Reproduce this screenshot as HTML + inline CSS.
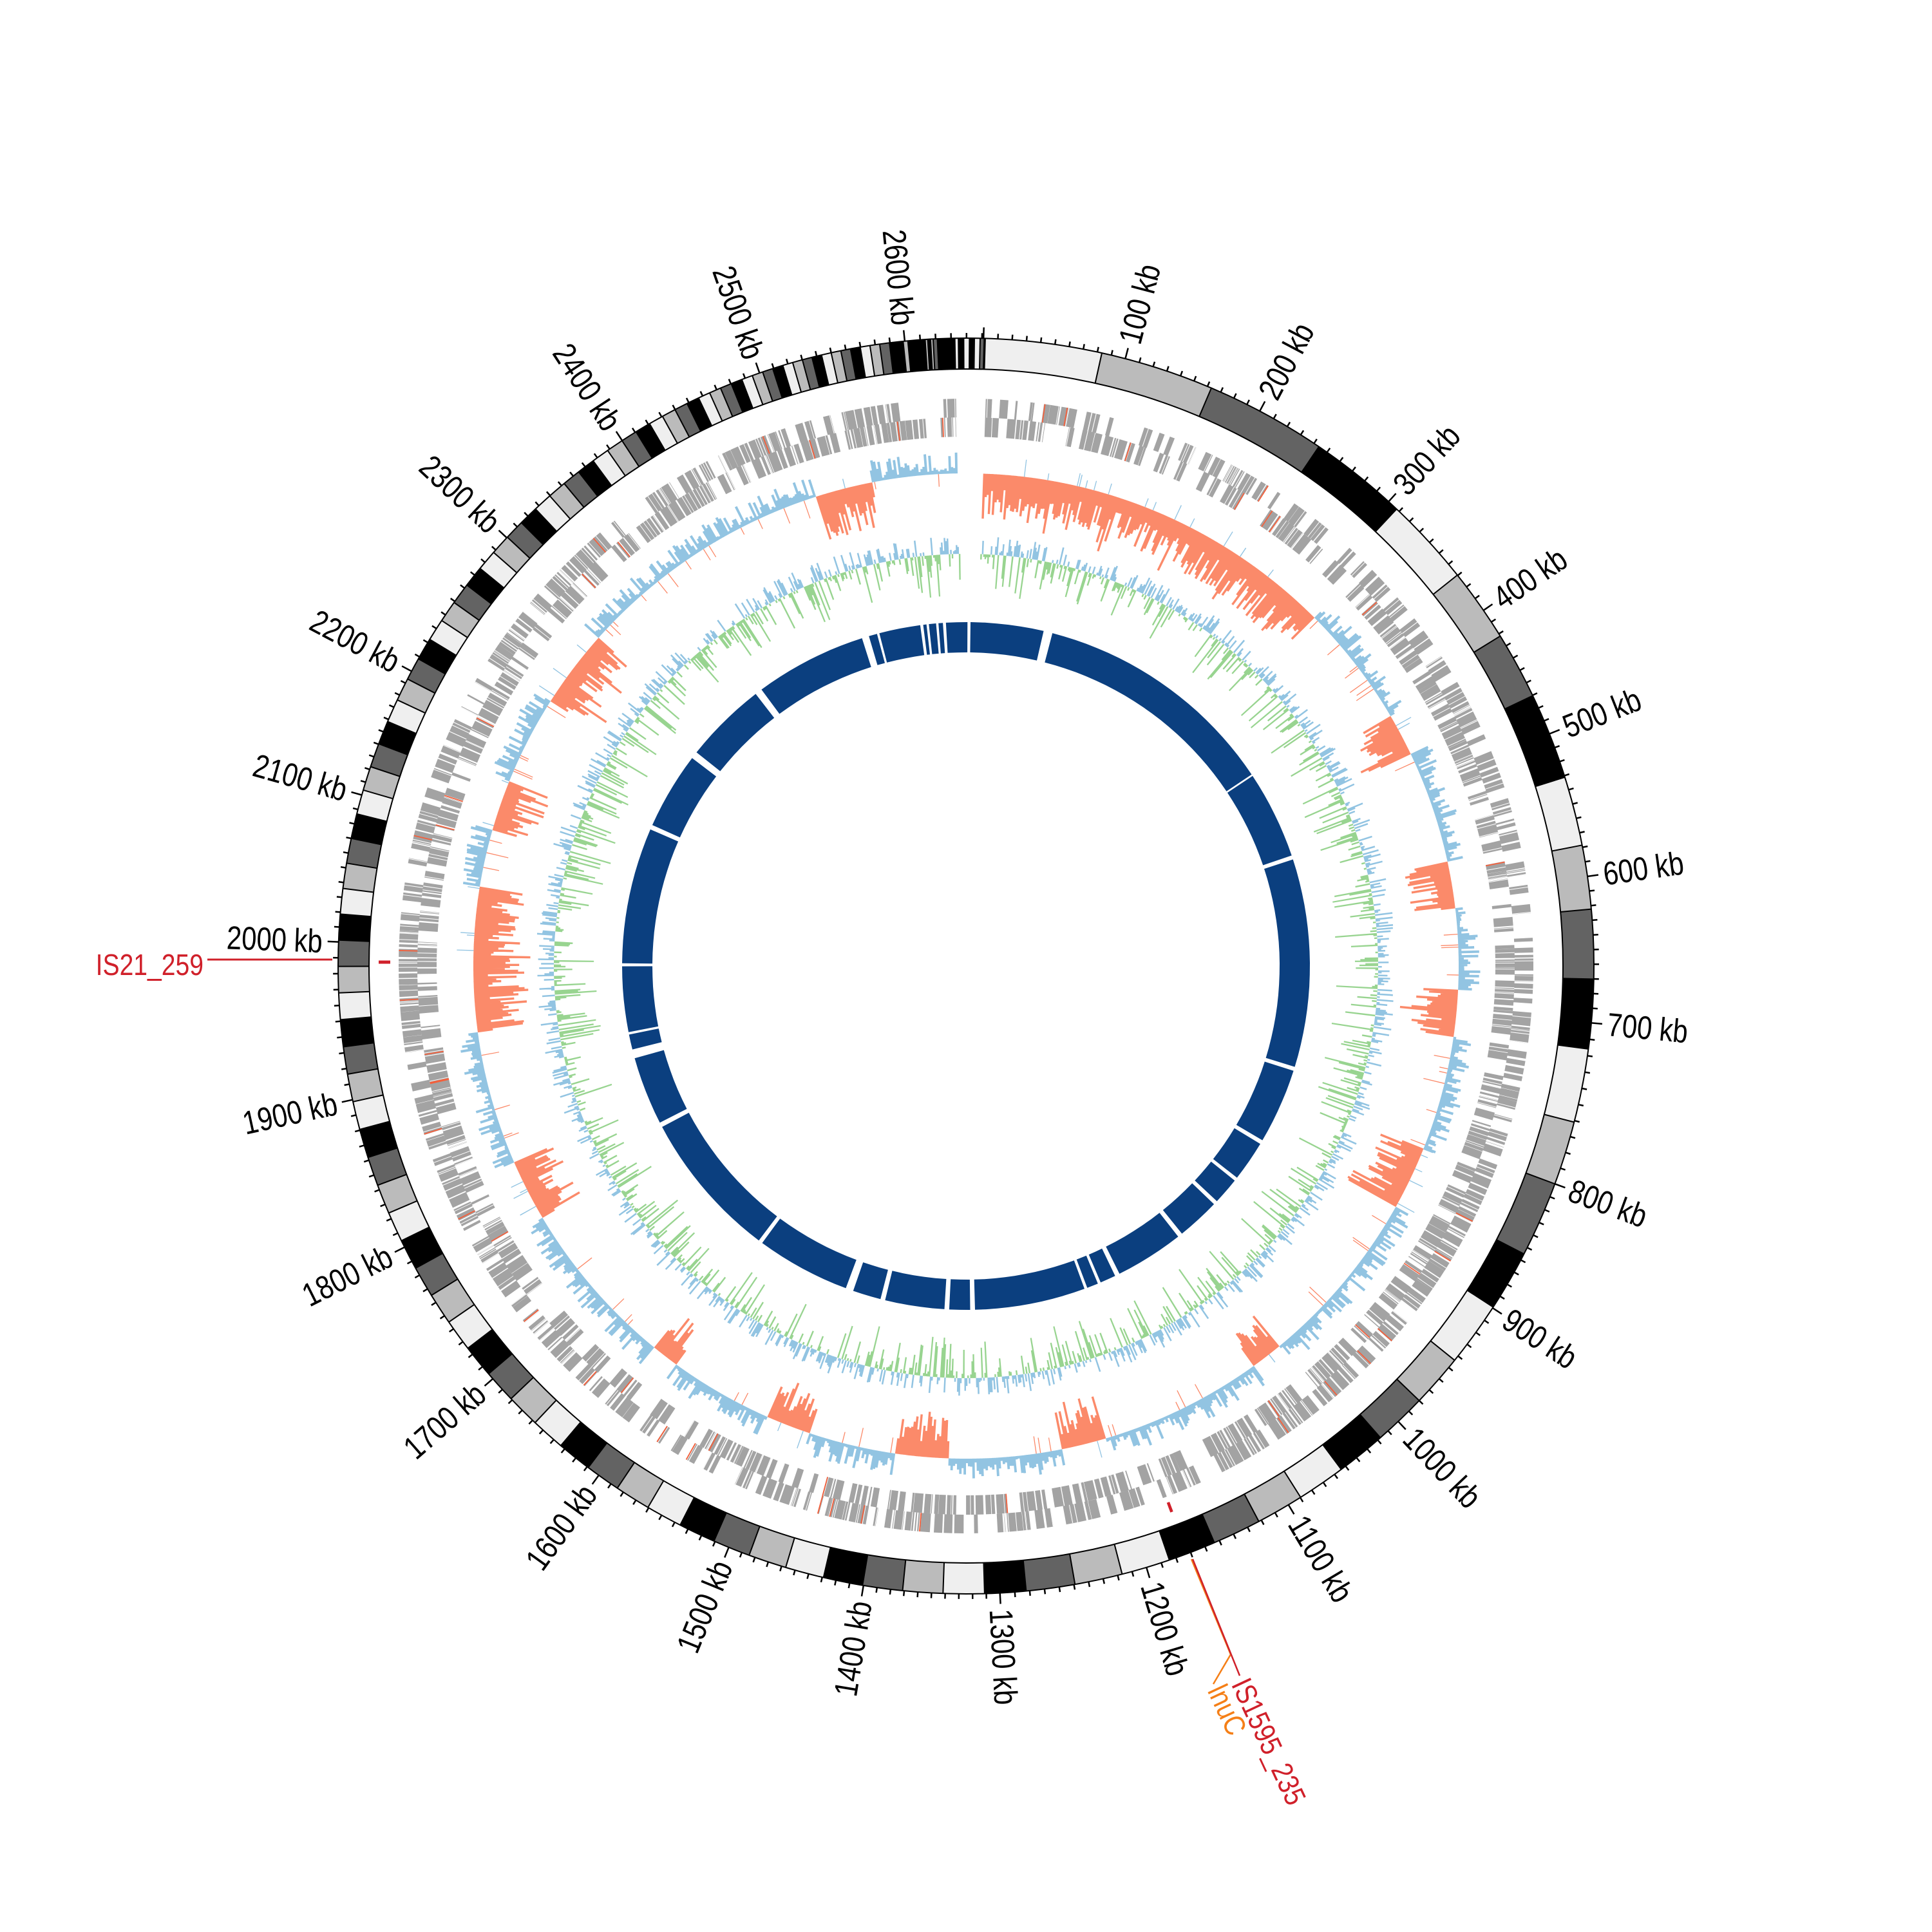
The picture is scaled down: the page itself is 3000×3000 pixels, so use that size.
<!DOCTYPE html>
<html><head><meta charset="utf-8"><style>
html,body{margin:0;padding:0;background:#fff;}
svg{display:block;}
.t{font-family:"Liberation Sans",sans-serif;font-size:51px;fill:#000;dominant-baseline:central;}
.l{font-family:"Liberation Sans",sans-serif;font-size:46px;dominant-baseline:central;}
</style></head><body>
<svg id="s" width="3000" height="3000" viewBox="0 0 3000 3000" xmlns="http://www.w3.org/2000/svg">
<rect width="3000" height="3000" fill="#fff"/>
<g id="g"></g>
<g id="labels">
<text class="t" transform="rotate(-75.3 1500 1500) translate(2500 1500) scale(0.82 1)">100 kb</text>
<text class="t" transform="rotate(-62.1 1500 1500) translate(2500 1500) scale(0.82 1)">200 kb</text>
<text class="t" transform="rotate(-47.7 1500 1500) translate(2500 1500) scale(0.82 1)">300 kb</text>
<text class="t" transform="rotate(-34.5 1500 1500) translate(2500 1500) scale(0.82 1)">400 kb</text>
<text class="t" transform="rotate(-21.7 1500 1500) translate(2500 1500) scale(0.82 1)">500 kb</text>
<text class="t" transform="rotate(-8.2 1500 1500) translate(2500 1500) scale(0.82 1)">600 kb</text>
<text class="t" transform="rotate(5.2 1500 1500) translate(2500 1500) scale(0.82 1)">700 kb</text>
<text class="t" transform="rotate(20.3 1500 1500) translate(2500 1500) scale(0.82 1)">800 kb</text>
<text class="t" transform="rotate(33 1500 1500) translate(2500 1500) scale(0.82 1)">900 kb</text>
<text class="t" transform="rotate(46.5 1500 1500) translate(2500 1500) scale(0.82 1)">1000 kb</text>
<text class="t" transform="rotate(59.1 1500 1500) translate(2500 1500) scale(0.82 1)">1100 kb</text>
<text class="t" transform="rotate(73.3 1500 1500) translate(2500 1500) scale(0.82 1)">1200 kb</text>
<text class="t" transform="rotate(86.9 1500 1500) translate(2500 1500) scale(0.82 1)">1300 kb</text>
<text class="t" text-anchor="end" transform="rotate(-80.6 1500 1500) translate(500 1500) scale(0.82 1)">1400 kb</text>
<text class="t" text-anchor="end" transform="rotate(-67.8 1500 1500) translate(500 1500) scale(0.82 1)">1500 kb</text>
<text class="t" text-anchor="end" transform="rotate(-54.2 1500 1500) translate(500 1500) scale(0.82 1)">1600 kb</text>
<text class="t" text-anchor="end" transform="rotate(-41.1 1500 1500) translate(500 1500) scale(0.82 1)">1700 kb</text>
<text class="t" text-anchor="end" transform="rotate(-26.6 1500 1500) translate(500 1500) scale(0.82 1)">1800 kb</text>
<text class="t" text-anchor="end" transform="rotate(-12.3 1500 1500) translate(500 1500) scale(0.82 1)">1900 kb</text>
<text class="t" text-anchor="end" transform="rotate(2.2 1500 1500) translate(500 1500) scale(0.82 1)">2000 kb</text>
<text class="t" text-anchor="end" transform="rotate(15.8 1500 1500) translate(500 1500) scale(0.82 1)">2100 kb</text>
<text class="t" text-anchor="end" transform="rotate(28 1500 1500) translate(500 1500) scale(0.82 1)">2200 kb</text>
<text class="t" text-anchor="end" transform="rotate(43 1500 1500) translate(500 1500) scale(0.82 1)">2300 kb</text>
<text class="t" text-anchor="end" transform="rotate(56.8 1500 1500) translate(500 1500) scale(0.82 1)">2400 kb</text>
<text class="t" text-anchor="end" transform="rotate(70.8 1500 1500) translate(500 1500) scale(0.82 1)">2500 kb</text>
<text class="t" text-anchor="end" transform="rotate(84.4 1500 1500) translate(500 1500) scale(0.82 1)">2600 kb</text>
<line x1="322" y1="1490" x2="516" y2="1490" stroke="#d0202a" stroke-width="3"/>
<line x1="588" y1="1494" x2="606" y2="1494" stroke="#d0202a" stroke-width="5"/>
<text class="l" text-anchor="end" transform="translate(316 1499) scale(0.85 1)" fill="#d0202a">IS21_259</text>
<polyline points="1850,2421 1911,2569 1884,2615" fill="none" stroke="#f57f17" stroke-width="2.5"/>
<line x1="1852" y1="2421" x2="1925" y2="2602" stroke="#d0202a" stroke-width="2.5"/>
<text class="l" transform="translate(1925 2609) rotate(65) scale(0.85 1)" fill="#d0202a">IS1595_235</text>
<text class="l" transform="translate(1888 2619) rotate(65) scale(0.85 1)" fill="#f57f17">lnuC</text>
</g>
</svg>
<script>
(function(){
var cx=1500,cy=1500;
var s=987654;function rnd(){s=(s*1664525+1013904223)>>>0;return s/4294967296;}
function pt(r,d){var a=(d-90)*Math.PI/180;return (cx+r*Math.cos(a)).toFixed(1)+","+(cy+r*Math.sin(a)).toFixed(1);}
function quad(r1,r2,a1,a2){return "M"+pt(r1,a1)+"L"+pt(r2,a1)+"L"+pt(r2,a2)+"L"+pt(r1,a2)+"Z";}
function sector(r1,r2,a1,a2){var n=Math.max(1,Math.ceil((a2-a1)/2));var d="M"+pt(r2,a1);for(var i=1;i<=n;i++)d+="L"+pt(r2,a1+(a2-a1)*i/n);for(var i=n;i>=0;i--)d+="L"+pt(r1,a1+(a2-a1)*i/n);return d+"Z";}
var out=[];
function path(d,fill,extra){out.push('<path d="'+d+'" fill="'+fill+'" '+(extra||'')+'/>');}
var T=[[0,1.6],[100,14.7],[200,27.9],[300,42.3],[400,55.5],[500,68.3],[600,81.8],[700,95.2],[800,110.3],[900,123],[1000,136.5],[1100,149.1],[1200,163.3],[1300,176.9],[1400,189.4],[1500,202.2],[1600,215.8],[1700,228.9],[1800,243.4],[1900,257.7],[2000,272.2],[2100,285.8],[2200,298],[2300,313],[2400,326.8],[2500,340.8],[2600,354.4],[2651,361.6]];
function kb2a(k){for(var i=1;i<T.length;i++){if(k<=T[i][0]){var f=(k-T[i-1][0])/(T[i][0]-T[i-1][0]);return T[i-1][1]+f*(T[i][1]-T[i-1][1]);}}return 361.6;}
var COL=["#efefef","#bbbbbb","#636363","#000000"];
var B=[1.76,12.5,23,34.2,43.3,51.5,58.3,64.5,72.5,78.9,84.8,91.2,97.6,104.4,110.3,117.3,122.9,128.9,133.8,138.7,143.3,147.8,152.2,156.7,161.1,165.6,170.0,174.5,178.3,182.1,185.8];
var W=[[185,3.7],[265,2.45],[290,2.2],[310,1.9],[325,1.6],[335,1.1],[345,0.9],[353.5,0.9]];
function wf(a){for(var i=1;i<W.length;i++){if(a<=W[i][0]){var f=(a-W[i-1][0])/(W[i][0]-W[i-1][0]);return W[i-1][1]+f*(W[i][1]-W[i-1][1]);}}return 0.9;}
var a=185.8;while(a<353.5){a+=wf(a);B.push(Math.min(a,353.5));}
var bandD={0:"",1:"",2:"",3:""};var ci=0;
for(var i=0;i<B.length-1;i++){bandD[ci%4]+=sector(927,975,B[i],B[i+1]+0.02);ci++;}
a=353.5;var lines="";
while(a<361.76){var w=0.08+rnd()*0.45;var e=Math.min(a+w,361.76);var c=rnd();var k=c<0.45?3:(c<0.65?2:(c<0.82?1:0));bandD[k]+=sector(927,975,a,e+0.01);lines+="M"+pt(927,a)+"L"+pt(975,a);a=e;}
for(var k=0;k<4;k++)path(bandD[k],COL[k]);
var bl="";for(var i=0;i<B.length;i++)bl+="M"+pt(927,B[i])+"L"+pt(975,B[i]);
out.push('<path d="'+bl+lines+'" stroke="#000" stroke-width="2" fill="none"/>');
out.push('<circle cx="1500" cy="1500" r="975" fill="none" stroke="#000" stroke-width="2"/>');
out.push('<circle cx="1500" cy="1500" r="927" fill="none" stroke="#000" stroke-width="2"/>');
var tk="";for(var k=0;k<=2650;k+=10){var an=kb2a(k);var L=(k%100==0)?992:983;tk+="M"+pt(975,an)+"L"+pt(L,an);}
out.push('<path d="'+tk+'" stroke="#000" stroke-width="2.5" fill="none"/>');
// gene track
var gd="",rd="",ld="";
[[852,881],[822,852]].forEach(function(row){var a=2;while(a<359){var w=0.1+rnd()*0.9;if(rnd()<0.72){gd+=quad(row[0],row[1],a,Math.min(a+w,359));if(rnd()<0.5){var x=a+rnd()*w;ld+="M"+pt(row[0],x)+"L"+pt(row[1],x);}if(rnd()<0.07){var x=a+rnd()*w;rd+=quad(row[0],row[1],x,x+0.12);}}a+=w+rnd()*0.25;}});
path(gd,"#a3a3a3");
out.push('<path d="'+ld+'" stroke="#fff" stroke-width="1" fill="none"/>');
path(rd,"#f4603c");
path(quad(890,906,159.2,159.5),"#d0202a");
// GC skew
var RED=[[0,320],[430,470],[570,610],[680,720],[810,870],[1030,1060],[1200,1240],[1340,1390],[1470,1510],[1600,1625],[1770,1820],[1930,2050],[2100,2150],[2230,2290],[2510,2560]].map(function(p){return [kb2a(p[0]),kb2a(p[1])];});
function isRed(an){for(var i=0;i<RED.length;i++)if(an>=RED[i][0]&&an<=RED[i][1])return true;return false;}
var r0=765,sr="",sb="",step=0.25;
for(var an=2;an<359;an+=step){
 if(isRed(an)){var m=22+50*Math.pow(rnd(),1.2);if(rnd()<0.12)m+=30*rnd();sr+=quad(r0-m,r0,an,an+step+0.03);if(rnd()<0.06)sb+=quad(r0,r0+10+20*rnd(),an,an+0.1);}
 else{var m=4+30*Math.pow(rnd(),1.4);sb+=quad(r0,r0+m,an,an+step+0.03);if(rnd()<0.08)sr+=quad(r0-10-25*rnd(),r0,an,an+0.1);}
}
path(sr,"#fb8a6a");path(sb,"#92c4e2");
// GC content
var g0=640,gg="",gb="";
for(var an=2;an<359;an+=0.2){var q=rnd();
 if(q<0.5){var m=4+24*Math.pow(rnd(),1.5);gb+=quad(g0,g0+m,an,an+0.22);}
 else{var m=4+62*Math.pow(rnd(),2.6);gg+=quad(g0-m,g0,an,an+0.22);}
}
path(gg,"#98d490");path(gb,"#92c4e2");
// blue ring
var G=[[343.0,1.2],[345.2,0.4],[352.6,0.5],[353.6,0.4],[355.2,0.4],[356.4,0.5],[360.5,0.5],[13.8,1.5],[56.3,0.3],[71.6,0.7],[107.4,0.7],[120.8,0.7],[128.3,0.6],[133.5,0.7],[141.5,0.8],[153.9,0.8],[157.2,0.5],[159.6,0.5],[178.9,0.8],[183.2,0.8],[194,0.8],[199.8,1.3],[216.7,0.7],[242.5,0.8],[255.2,1.5],[258.7,0.4],[270.2,0.5],[293.8,0.8],[307.8,1.2],[322.9,1.2]];
G.sort(function(x,y){return x[0]-y[0];});
var start=1.2,bd="";
G.forEach(function(g){var s1=g[0]-g[1]/2;if(s1>start)bd+=sector(487,534,start,s1);start=g[0]+g[1]/2;});
if(start<361.2)bd+=sector(487,534,start,361.2);
path(bd,"#0b3f7f");
document.getElementById("g").innerHTML=out.join("");
})();
</script>
</body></html>
